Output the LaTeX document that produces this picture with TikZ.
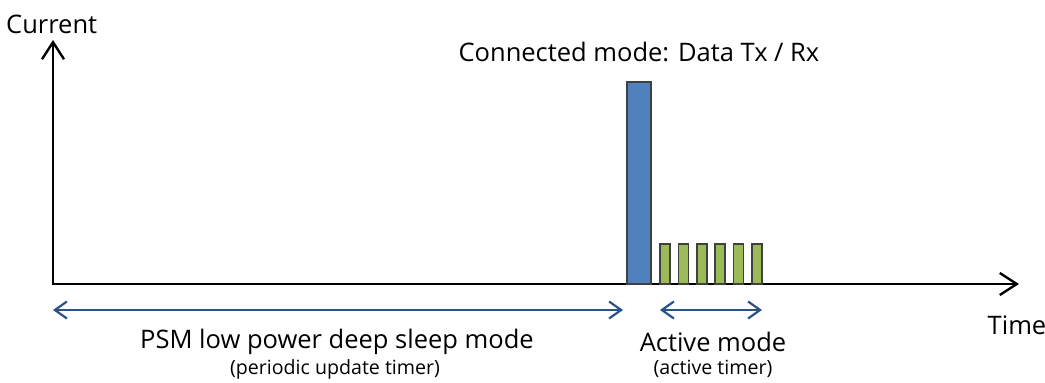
\documentclass[tikz,border=0pt]{standalone}
\usepackage{fontspec}
\setmainfont{Open Sans}
\usetikzlibrary{
    arrows.meta,
    positioning
}
\tikzset{
    % Colors
    bar blue/.style={fill={rgb,255:red,79;green,129;blue,189}},
    bar green/.style={fill={rgb,255:red,155;green,187;blue,89}},
    span color/.style={color={rgb,255:red,41;green,82;blue,136}},
    %
    % Axes
    axis tip/.tip={Straight Barb[length=17pt,width=22pt,line width=2.4pt]},
    axis/.style={-{axis tip},line width=2.4pt},
    %
    % Bars
    bar/.style={draw=black!75,line width=1.2pt,anchor=south west,inner sep=0pt,outer sep=0pt},
    %
    % Span arrows
    span tip/.tip={Straight Barb[length=12pt,width=17pt,line width=2.2pt]},
    span/.style={span color,{span tip}-{span tip},line width=2.2pt},
    %
    % Labels
    big label/.style={font=\fontsize{25.5}{29}\selectfont,inner sep=0pt},
    small label/.style={font=\fontsize{19.6}{22}\selectfont,inner sep=0pt},
}

\begin{document}
\begin{tikzpicture}[x=1pt,y=-1pt]
    \useasboundingbox (0,0) rectangle (1045,383);
    % axes
    \coordinate (Origin) at (53,284);
    \coordinate (Current tip) at (53,40);
    \coordinate (Time tip) at (1019,284);
    \draw[axis] (Origin) -- (Current tip);
    \draw[axis] ([xshift=-1.2pt]Origin) -- (Time tip);
    \node[big label,anchor=west] (Current) at (6,24) {Current};
    \node[big label] (Time) at (1017,325) {Time};
    %
    % bars
    \node[bar,bar blue,minimum width=24pt,minimum height=202pt] (Tx bar) at (627,284) {};
    \foreach \i/\x in {1/660,2/678.5,3/697,4/715,5/733.5,6/752}
        \node[bar,bar green,minimum width=10pt,minimum height=40pt] (Active bar \i) at (\x,284) {};
    \node[big label] (Connected) at (639,52) {Connected mode: Data Tx / Rx};
    %
    % spans
    \coordinate (PSM start) at (53,310);
    \coordinate (PSM end) at (623,310);
    \coordinate (Active start) at (660,310);
    \coordinate (Active end) at (762,310);
    \draw[span] (PSM start) -- (PSM end);
    \draw[span] (Active start) -- (Active end);
    \node[big label] (PSM) at (337,342) {PSM low power deep sleep mode};
    \node[small label] (PSM timer) at (335,369) {(periodic update timer)};
    \node[big label] (Active) at (713,342) {Active mode};
    \node[small label] (Active timer) at (713,369) {(active timer)};
\end{tikzpicture}
\end{document}
